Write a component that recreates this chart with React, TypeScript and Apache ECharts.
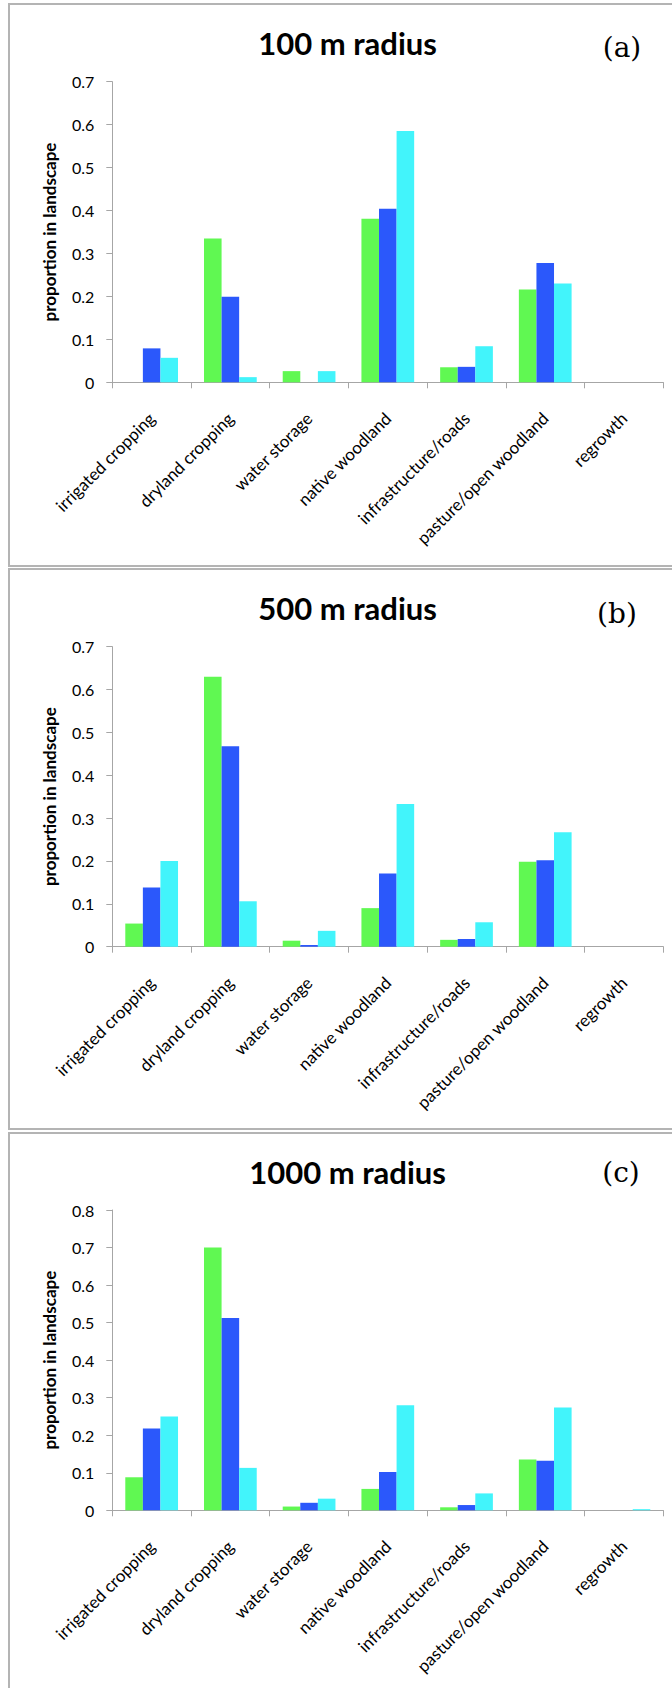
import React, { useEffect, useRef } from "react";
import * as echarts from "echarts";

const categories = [
  "irrigated cropping",
  "dryland cropping",
  "water storage",
  "native woodland",
  "infrastructure/roads",
  "pasture/open woodland",
  "regrowth",
];

// Proportion of each land-use class within the given radius, three sites per class
const r100Green = [0, 0.335, 0.026, 0.381, 0.035, 0.216, 0];
const r100Blue = [0.079, 0.199, 0, 0.404, 0.036, 0.278, 0];
const r100Cyan = [0.057, 0.012, 0.026, 0.585, 0.084, 0.23, 0];

const r500Green = [0.054, 0.63, 0.014, 0.09, 0.016, 0.198, 0];
const r500Blue = [0.138, 0.468, 0.004, 0.171, 0.018, 0.202, 0];
const r500Cyan = [0.2, 0.106, 0.037, 0.333, 0.057, 0.267, 0];

const r1000Green = [0.088, 0.7, 0.01, 0.057, 0.008, 0.135, 0];
const r1000Blue = [0.218, 0.512, 0.02, 0.102, 0.014, 0.132, 0];
const r1000Cyan = [0.25, 0.113, 0.031, 0.28, 0.045, 0.274, 0.003];

const panelTitles = ["100 m radius", "500 m radius", "1000 m radius"];
const panelTags = ["(a)", "(b)", "(c)"];
const yMax = [0.7, 0.7, 0.8];

const GREEN = "#60f852";
const BLUE = "#2b58fb";
const CYAN = "#42f4fb";
const AXIS = "#a6a6a6";
const FONT = "Lato";

// Layout of the three stacked panels
const panels = [
  { boxTop: 4, boxBottom: 566, gridTop: 81.7, gridBottom: 382.3, titleY: 43, tagY: 47, tagX: 622 },
  { boxTop: 569, boxBottom: 1129, gridTop: 646.7, gridBottom: 946.7, titleY: 608, tagY: 613, tagX: 617 },
  { boxTop: 1133, boxBottom: 1720, gridTop: 1210, gridBottom: 1510.3, titleY: 1172, tagY: 1172, tagX: 621 },
];

export default function App() {
  const ref = useRef<HTMLDivElement>(null);

  useEffect(() => {
    if (!ref.current) return;
    const chart = echarts.init(ref.current, undefined, { renderer: "svg" });

    const seriesData = [
      [r100Green, r100Blue, r100Cyan],
      [r500Green, r500Blue, r500Cyan],
      [r1000Green, r1000Blue, r1000Cyan],
    ];
    const colors = [GREEN, BLUE, CYAN];

    const grids = panels.map((p) => ({
      left: 112.3,
      top: p.gridTop,
      width: 551,
      height: p.gridBottom - p.gridTop,
    }));

    const xAxes = panels.map((_, i) => ({
      type: "category",
      gridIndex: i,
      data: categories,
      axisLine: { lineStyle: { color: AXIS, width: 1 } },
      axisTick: { show: true, length: 6, lineStyle: { color: AXIS } },
      axisLabel: {
        interval: 0,
        rotate: 45,
        margin: 33,
        color: "#000",
        fontFamily: FONT,
        fontSize: 17,
      },
      splitLine: { show: false },
    }));

    const yAxes = panels.map((_, i) => ({
      type: "value",
      gridIndex: i,
      min: 0,
      max: yMax[i],
      interval: 0.1,
      name: "proportion in landscape",
      nameLocation: "middle",
      nameGap: 54,
      nameTextStyle: {
        color: "#000",
        fontFamily: FONT,
        fontWeight: "bold",
        fontSize: 17,
      },
      axisLine: { show: true, lineStyle: { color: AXIS, width: 1 } },
      axisTick: { show: true, length: 6, lineStyle: { color: AXIS } },
      axisLabel: {
        color: "#000",
        fontFamily: FONT,
        fontSize: 16,
        margin: 18,
        formatter: (v: number) => (v === 0 ? "0" : String(Math.round(v * 10) / 10)),
      },
      splitLine: { show: false },
    }));

    const series: any[] = [];
    seriesData.forEach((group, gi) => {
      group.forEach((values, si) => {
        series.push({
          type: "bar",
          xAxisIndex: gi,
          yAxisIndex: gi,
          data: values,
          barCategoryGap: "33%",
          barGap: "0%",
          itemStyle: { color: colors[si] },
        });
      });
    });

    const graphics: any[] = [];
    panels.forEach((p, i) => {
      graphics.push({
        type: "rect",
        shape: { x: 9, y: p.boxTop, width: 700, height: p.boxBottom - p.boxTop },
        style: { fill: "none", stroke: "#b4b4b4", lineWidth: 2 },
        z: 0,
      });
      graphics.push({
        type: "text",
        x: 347.6,
        y: p.titleY,
        style: {
          text: panelTitles[i],
          fill: "#000",
          font: `bold 31px ${FONT}`,
          textAlign: "center",
          textVerticalAlign: "middle",
        },
      });
      graphics.push({
        type: "text",
        x: p.tagX,
        y: p.tagY,
        style: {
          text: panelTags[i],
          fill: "#000",
          font: `28px "DejaVu Serif"`,
          textAlign: "center",
          textVerticalAlign: "middle",
        },
      });
    });

    chart.setOption({
      animation: false,
      backgroundColor: "#fff",
      grid: grids,
      xAxis: xAxes,
      yAxis: yAxes,
      series,
      graphic: graphics,
    });

    return () => chart.dispose();
  }, []);

  return (
    <div
      ref={ref}
      style={{ position: "absolute", left: 0, top: 0, width: 672, height: 1688 }}
    />
  );
}
